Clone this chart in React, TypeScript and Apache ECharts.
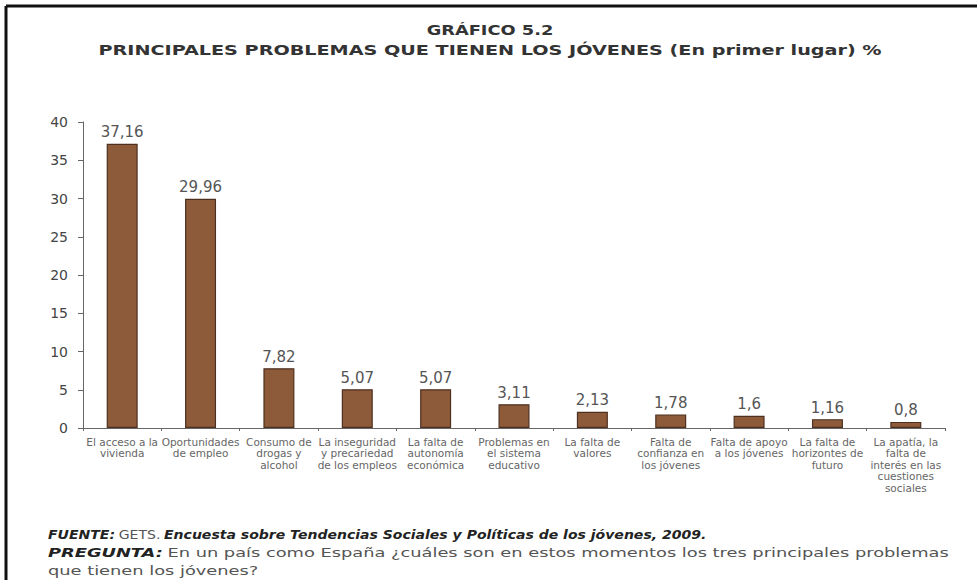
import React, { useEffect, useRef } from "react";
import * as echarts from "echarts";

const categories = [
  "El acceso a la\nvivienda",
  "Oportunidades\nde empleo",
  "Consumo de\ndrogas y\nalcohol",
  "La inseguridad\ny precariedad\nde los empleos",
  "La falta de\nautonomía\neconómica",
  "Problemas en\nel sistema\neducativo",
  "La falta de\nvalores",
  "Falta de\nconfianza en\nlos jóvenes",
  "Falta de apoyo\na los jóvenes",
  "La falta de\nhorizontes de\nfuturo",
  "La apatía, la\nfalta de\ninterés en las\ncuestiones\nsociales",
];
const values = [37.16, 29.96, 7.82, 5.07, 5.07, 3.11, 2.13, 1.78, 1.6, 1.16, 0.8];
const valueLabels = ["37,16", "29,96", "7,82", "5,07", "5,07", "3,11", "2,13", "1,78", "1,6", "1,16", "0,8"];
const yTicks = [0, 5, 10, 15, 20, 25, 30, 35, 40];

const title = "GRÁFICO 5.2";
const subtitle = "PRINCIPALES PROBLEMAS QUE TIENEN LOS JÓVENES (En primer lugar) %";

export default function App() {
  const ref = useRef<HTMLDivElement>(null);
  useEffect(() => {
    if (!ref.current) return;
    const chart = echarts.init(ref.current, null, { renderer: "svg" });
    const font = "'DejaVu Sans', sans-serif";
    const bi = { fontFamily: font, fontWeight: "bold", fontStyle: "italic", fontSize: 13, fill: "#222" };
    const rg = { fontFamily: font, fontSize: 13, fill: "#555" };
    chart.setOption({
      animation: false,
      backgroundColor: "#ffffff",
      grid: { left: 83, right: 32, top: 122, bottom: 152, containLabel: false },
      xAxis: {
        type: "category",
        data: categories,
        axisLine: { lineStyle: { color: "#666", width: 1 } },
        axisTick: { show: true, length: 3, lineStyle: { color: "#666" } },
        axisLabel: {
          interval: 0,
          fontFamily: font,
          fontSize: 10.5,
          color: "#666",
          lineHeight: 11.5,
          margin: 8,
        },
      },
      yAxis: {
        type: "value",
        min: 0,
        max: 40,
        interval: 5,
        splitLine: { show: false },
        axisLine: { show: true, lineStyle: { color: "#666" } },
        axisTick: { show: true, length: 5, lineStyle: { color: "#666" } },
        axisLabel: {
          fontFamily: font,
          fontSize: 14,
          color: "#444",
          margin: 15,
          formatter: (v: number) => (yTicks.includes(v) ? String(v) : ""),
        },
      },
      series: [
        {
          type: "bar",
          data: values,
          barWidth: 31,
          itemStyle: { color: "#8d5b3a", borderColor: "#4e3020", borderWidth: 1.2 },
          label: {
            show: true,
            position: "top",
            distance: 4,
            fontFamily: font,
            fontSize: 15,
            color: "#555",
            formatter: (p: any) => valueLabels[p.dataIndex],
          },
        },
      ],
      graphic: [
        { type: "line", shape: { x1: 6, y1: 6, x2: 977, y2: 6 }, style: { stroke: "#111", lineWidth: 3 } },
        { type: "line", shape: { x1: 6, y1: 6, x2: 6, y2: 580 }, style: { stroke: "#111", lineWidth: 3 } },
        {
          type: "text",
          x: 490,
          y: 30,
          scaleX: 1.27,
          style: {
            text: title,
            fontFamily: font,
            fontWeight: "bold",
            fontSize: 14,
            fill: "#333",
            align: "center",
            verticalAlign: "middle",
          },
        },
        {
          type: "text",
          x: 490,
          y: 50,
          scaleX: 1.37,
          style: {
            text: subtitle,
            fontFamily: font,
            fontWeight: "bold",
            fontSize: 14,
            fill: "#333",
            align: "center",
            verticalAlign: "middle",
          },
        },
        {
          type: "text",
          x: 48,
          y: 534,
          scaleX: 1.08,
          style: {
            text: "{b|FUENTE:} {r|GETS.} {b|Encuesta sobre Tendencias Sociales y Políticas de los jóvenes, 2009.}",
            verticalAlign: "middle",
            rich: { b: bi, r: rg },
          },
        },
        {
          type: "text",
          x: 48,
          y: 553,
          scaleX: 1.37,
          style: {
            text: "{b|PREGUNTA:} {r|En un país como España ¿cuáles son en estos momentos los tres principales problemas}",
            verticalAlign: "middle",
            rich: { b: bi, r: rg },
          },
        },
        {
          type: "text",
          x: 48,
          y: 571,
          scaleX: 1.37,
          style: { text: "que tienen los jóvenes?", ...rg, verticalAlign: "middle" },
        },
      ],
    });
    return () => chart.dispose();
  }, []);
  return (
    <div
      ref={ref}
      style={{ position: "absolute", left: 0, top: 0, width: 977, height: 580 }}
    />
  );
}
